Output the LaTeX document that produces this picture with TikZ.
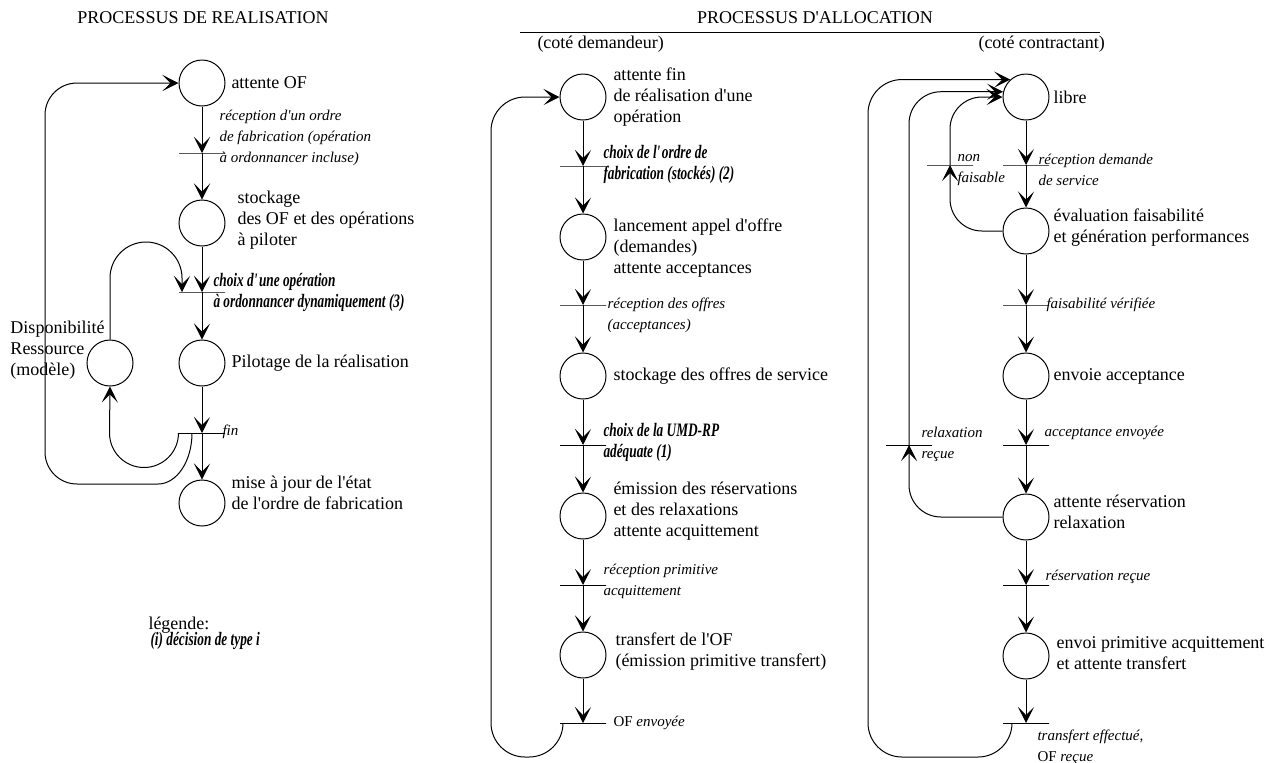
\documentclass[tikz,border=0pt]{standalone}
\usepackage{fontspec}
\setmainfont{Liberation Serif}
\newfontfamily\decfont[FakeStretch=0.7]{Liberation Serif}
\newcommand\ap{\textquotesingle}
\usetikzlibrary{arrows.meta}

\begin{document}
\begin{tikzpicture}[x=0.5pt,y=-0.5pt,line width=0.5pt,
    place/.style={circle,draw,minimum size=23pt,inner sep=0pt},
    bar/.style={draw,minimum width=23pt,minimum height=0pt,inner sep=0pt},
    pn/.style={-{Stealth[length=8pt,width=8pt,inset=4pt]}},
    lab/.style={anchor=west,align=left,inner sep=0pt,font=\fontsize{9}{10.5}\selectfont},
    evt/.style={lab,font=\fontsize{7.5}{10.5}\selectfont\itshape},
    dec/.style={lab,font=\fontsize{9.5}{10.5}\selectfont\decfont\bfseries\itshape}]
    \useasboundingbox (0,0) rectangle (1269,762);

    \node[lab,anchor=center] (titre) at (203,18) {PROCESSUS DE REALISATION};
    \node[lab,anchor=center] (titalloc) at (815,18) {PROCESSUS D\ap ALLOCATION};
    \draw (520,32) -- (1100,32);
    \node[lab] (dem) at (537,44) {(coté demandeur)};
    \node[lab] (con) at (978,44) {(coté contractant)};

    \node[place] (aof) at (202,83) {};
    \node[place] (sto) at (202,223) {};
    \node[place] (pil) at (202,363) {};
    \node[place] (dis) at (110,363) {};
    \node[place] (maj) at (202,503) {};
    \node[bar] (trec) at (202,153) {};
    \node[bar] (tcho) at (202,292) {};
    \node[bar] (tfin) at (202,433) {};
    \coordinate (lb) at (45,484);

    \node[lab] at (231,83) {attente OF};
    \node[evt] at (219,138) {réception d\ap un ordre\\de fabrication (opération\\à ordonnancer incluse)};
    \node[lab] at (237,220) {stockage\\des OF et des opérations\\à piloter};
    \node[dec] at (213,292) {choix d\ap une opération\\à ordonnancer dynamiquement (3)};
    \node[lab] at (231,363) {Pilotage de la réalisation};
    \node[lab] at (10,350) {Disponibilité\\Ressource\\(modèle)};
    \node[evt] at (222,432) {fin};
    \node[lab] at (231,493) {mise à jour de l\ap état\\de l\ap ordre de fabrication};
    \node[lab] at (148,625) {légende:};
    \node[dec] at (150,641) {(i) décision de type i};

    \draw[pn] (aof) -- (trec.center);
    \draw[pn] (trec.center) -- (sto);
    \draw[pn] (sto) -- (tcho.center);
    \draw[pn] (tcho.center) -- (pil);
    \draw[pn] (pil) -- (tfin.center);
    \draw[pn] (tfin.center) -- (maj);
    \draw[pn] (dis.north) -- (110,278) arc[start angle=180,end angle=0,radius=18pt] -- ([xshift=-10pt]tcho.center);
    \draw[pn] (tfin.west) arc[start angle=0,end angle=-180,radius=17.25pt] -- (dis.south);
    \draw[pn] ([xshift=-5pt]tfin.center) arc[start angle=0,end angle=-90,x radius=17pt,y radius=25.5pt]
        [rounded corners=16pt] -- (lb) -- (lb |- aof.west) -- (aof.west);

    \node[place] (m1) at (583,97) {};
    \node[place] (m2) at (583,237) {};
    \node[place] (m3) at (583,376) {};
    \node[place] (m4) at (583,516) {};
    \node[place] (m5) at (583,655) {};
    \node[bar] (mt1) at (583,166) {};
    \node[bar] (mt2) at (583,305) {};
    \node[bar] (mt3) at (583,445) {};
    \node[bar] (mt4) at (583,585) {};
    \node[bar] (mt5) at (583,723) {};
    \coordinate (mb) at (491,757);

    \node[lab] at (613,97) {attente fin\\de réalisation d\ap une\\opération};
    \node[dec] at (603,164) {choix de l\ap ordre de\\fabrication (stockés) (2)};
    \node[lab] at (613,248) {lancement appel d\ap offre\\(demandes)\\attente acceptances};
    \node[evt] at (607,315) {réception des offres\\(acceptances)};
    \node[lab] at (613,376) {stockage des offres de service};
    \node[dec] at (603,442) {choix de la UMD-RP\\adéquate (1)};
    \node[lab] at (613,511) {émission des réservations\\et des relaxations\\attente acquittement};
    \node[evt] at (603,581) {réception primitive\\acquittement};
    \node[lab] at (615,652) {transfert de l\ap OF\\(émission primitive transfert)};
    \node[evt] at (613,723) {{\upshape OF} envoyée};

    \foreach \a/\b in {m1/mt1,m2/mt2,m3/mt3,m4/mt4,m5/mt5}
        \draw[pn] (\a) -- (\b.center);
    \foreach \a/\b in {mt1/m2,mt2/m3,mt3/m4,mt4/m5}
        \draw[pn] (\a.center) -- (\b);
    \draw[pn,rounded corners=17pt] ([xshift=-10pt]mt5.center) -- ++(0,34) -- (mb) -- (mb |- m1.west) -- (m1.west);

    \node[place] (r1) at (1026,97) {};
    \node[place] (r2) at (1026,231) {};
    \node[place] (r3) at (1026,376) {};
    \node[place] (r4) at (1026,517) {};
    \node[place] (r5) at (1026,656) {};
    \node[bar] (rt1) at (1026,165) {};
    \node[bar] (rt2) at (1026,305) {};
    \node[bar] (rt3) at (1026,445) {};
    \node[bar] (rt4) at (1026,585) {};
    \node[bar] (rt5) at (1026,723) {};
    \node[bar] (nf) at (950,165) {};
    \node[bar] (rx) at (909,445) {};
    \coordinate (rb) at (868,757);

    \node[lab] at (1053,97) {libre};
    \node[evt] at (957,170) {non\\faisable};
    \node[evt] at (1038,170) {réception demande\\de service};
    \node[lab] at (1053,228) {évaluation faisabilité\\et génération performances};
    \node[evt] at (1046,305) {faisabilité vérifiée};
    \node[lab] at (1053,376) {envoie acceptance};
    \node[evt] at (921,444) {relaxation\\reçue};
    \node[evt] at (1044,433) {acceptance envoyée};
    \node[lab] at (1053,512) {attente réservation\\relaxation};
    \node[evt] at (1045,577) {réservation reçue};
    \node[lab] at (1056,653) {envoi primitive acquittement\\et attente transfert};
    \node[evt] at (1037,747) {transfert effectué,\\{\upshape OF} reçue};

    \foreach \a/\b in {r1/rt1,r2/rt2,r3/rt3,r4/rt4,r5/rt5}
        \draw[pn] (\a) -- (\b.center);
    \foreach \a/\b in {rt1/r2,rt2/r3,rt3/r4,rt4/r5}
        \draw[pn] (\a.center) -- (\b);
    \draw[pn,rounded corners=16pt] (r2.west) -- (r2.west -| nf.center) -- (nf.center);
    \draw[pn,rounded corners=16pt] (nf.center) -- (nf.center |- r1.west) -- (r1.west);
    \draw[pn,rounded corners=16pt] (r4.west) -- (r4.west -| rx.center) -- (rx.center);
    \draw[pn,rounded corners=16pt] (rx.center) -- (rx.center |- r1.167) -- (r1.167);
    \draw[pn,rounded corners=17pt] ([xshift=-7pt]rt5.center) -- ++(0,34) -- (rb) -- (rb |- r1.132) -- (r1.132);
\end{tikzpicture}
\end{document}
